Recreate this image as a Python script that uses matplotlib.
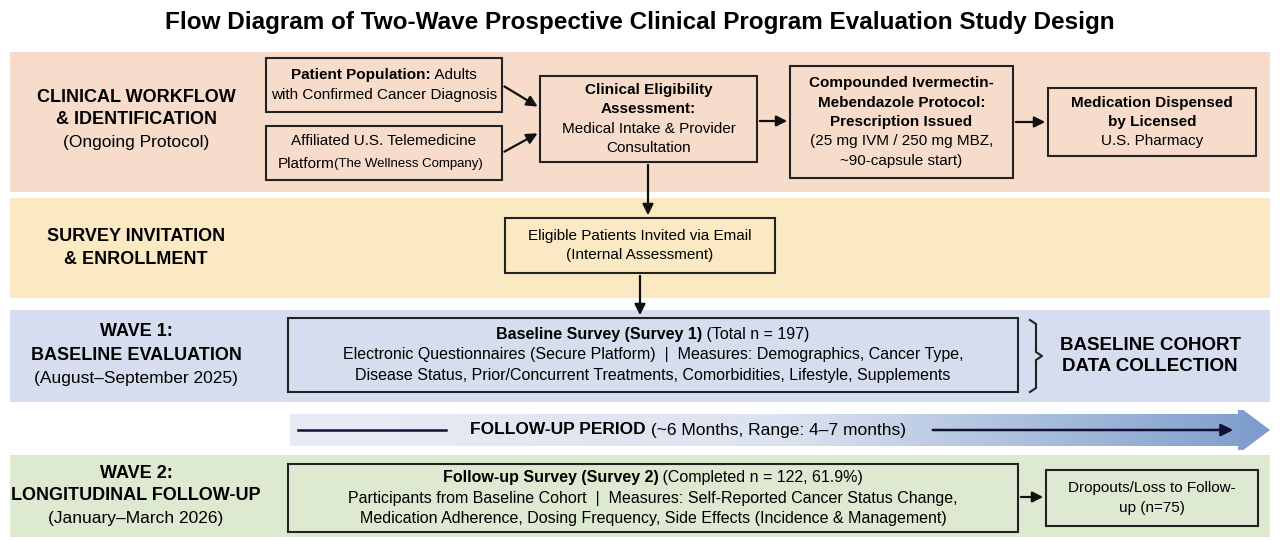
import matplotlib
matplotlib.use("Agg")
import matplotlib.pyplot as plt
import numpy as np
from matplotlib.patches import Rectangle, Polygon

plt.rcParams['font.family'] = ['Liberation Sans', 'DejaVu Sans']

title = "Flow Diagram of Two-Wave Prospective Clinical Program Evaluation Study Design"

# stage labels on the left: (bold lines, normal line)
stage_labels = [
    (["CLINICAL WORKFLOW", "& IDENTIFICATION"], "(Ongoing Protocol)"),
    (["SURVEY INVITATION", "& ENROLLMENT"], None),
    (["WAVE 1:", "BASELINE EVALUATION"], "(August\u2013September 2025)"),
    (["WAVE 2:", "LONGITUDINAL FOLLOW-UP"], "(January\u2013March 2026)"),
]
band_colors = ["#f7dccb", "#fbe9c3", "#d6ddef", "#dde9d1"]
followup_text = [("FOLLOW-UP PERIOD", True), (" (~6 Months, Range: 4\u20137 months)", False)]
cohort_text = "BASELINE COHORT\nDATA COLLECTION"

fig = plt.figure(figsize=(12.8, 5.41), dpi=100)
ax = fig.add_axes([0, 0, 1, 1])
ax.set_xlim(0, 1280)
ax.set_ylim(541, 0)
ax.axis('off')
fig.patch.set_facecolor('white')
r = fig.canvas.get_renderer()


def mixed(x, y, parts, size=11):
    # draw a line of mixed bold/normal text centered at x
    objs = []
    for s, b in parts:
        objs.append(ax.text(0, y, s, fontsize=size, fontweight='bold' if b else 'normal',
                            va='center', ha='left', zorder=6))
    inv = ax.transData.inverted()
    widths = []
    for t in objs:
        bb = t.get_window_extent(renderer=r)
        p0 = inv.transform((bb.x0, bb.y0))
        p1 = inv.transform((bb.x1, bb.y0))
        widths.append(p1[0] - p0[0])
    cur = x - sum(widths) / 2
    for t, w in zip(objs, widths):
        t.set_x(cur)
        cur += w


def box(x0, y0, x1, y1, lines, size=11):
    ax.add_patch(Rectangle((x0, y0), x1 - x0, y1 - y0, fc='none', ec='#222222', lw=1.5, zorder=5))
    n = len(lines)
    lh = size * 1.75
    yc = (y0 + y1) / 2
    for i, parts in enumerate(lines):
        mixed((x0 + x1) / 2, yc + (i - (n - 1) / 2) * lh, parts, size)


def arrow(x0, y0, x1, y1):
    ax.annotate("", xy=(x1, y1), xytext=(x0, y0),
                arrowprops=dict(arrowstyle='-|>', color='#111111', lw=1.6, mutation_scale=16), zorder=7)


ax.text(640, 22, title, ha='center', va='center', fontsize=17.5, fontweight='bold')

bands = [(52, 192), (198, 298), (310, 402), (455, 537)]
for (y0, y1), c in zip(bands, band_colors):
    ax.add_patch(Rectangle((10, y0), 1260, y1 - y0, fc=c, ec='none', zorder=1))

label_y = [120, 248, 355, 496]
for (bl, nl), yc in zip(stage_labels, label_y):
    lines = [(s, True) for s in bl] + ([(nl, False)] if nl else [])
    n = len(lines)
    for i, (s, b) in enumerate(lines):
        ax.text(136, yc + (i - (n - 1) / 2) * 23, s, ha='center', va='center',
                fontsize=13 if b else 12.5, fontweight='bold' if b else 'normal', zorder=6)

# row 1 boxes
box(266, 58, 502, 112, [[("Patient Population:", True), (" Adults", False)],
                        [("with Confirmed Cancer Diagnosis", False)]])
ax.add_patch(Rectangle((266, 126), 236, 54, fc='none', ec='#222222', lw=1.5, zorder=5))
mixed(384, 141, [("Affiliated U.S. Telemedicine", False)], 11)
ax.text(278, 164, "Platform", fontsize=11, va='center', ha='left', zorder=6)
ax.text(334, 164, "(The Wellness Company)", fontsize=9.5, va='center', ha='left', zorder=6)
box(540, 76, 757, 162, [[("Clinical Eligibility", True)], [("Assessment:", True)],
                        [("Medical Intake & Provider", False)], [("Consultation", False)]], 11)
box(790, 66, 1013, 178, [[("Compounded Ivermectin-", True)], [("Mebendazole Protocol:", True)],
                         [("Prescription Issued", True)], [("(25 mg IVM / 250 mg MBZ,", False)],
                         [("~90-capsule start)", False)]], 11)
box(1048, 88, 1256, 156, [[("Medication Dispensed", True)], [("by Licensed", True)],
                          [("U.S. Pharmacy", False)]], 11)
arrow(502, 85, 540, 108)
arrow(502, 153, 540, 132)
arrow(757, 121, 790, 121)
arrow(1013, 122, 1048, 122)
arrow(648, 162, 648, 218)

box(505, 218, 775, 273, [[("Eligible Patients Invited via Email", False)], [("(Internal Assessment)", False)]])
arrow(640, 273, 640, 318)

box(288, 318, 1018, 392, [[("Baseline Survey (Survey 1)", True), (" (Total n = 197)", False)],
                          [("Electronic Questionnaires (Secure Platform)  |  Measures: Demographics, Cancer Type,", False)],
                          [("Disease Status, Prior/Concurrent Treatments, Comorbidities, Lifestyle, Supplements", False)]], 11.5)
# brace
by0, by1, bx = 320, 392, 1030
ym = (by0 + by1) / 2
ax.plot([bx, bx + 6, bx + 6, bx + 12, bx + 6, bx + 6, bx], [by0, by0 + 4, ym - 4, ym, ym + 4, by1 - 4, by1],
        color='#222222', lw=1.5, zorder=6)
ax.text(1150, ym, cohort_text, ha='center', va='center', fontsize=13.5, fontweight='bold', linespacing=1.3)

# follow-up gradient arrow
grad = np.linspace(0, 1, 256).reshape(1, -1)
cmap = matplotlib.colors.LinearSegmentedColormap.from_list('g', ['#e8ecf5', '#dce3f0', '#7d9ccc'])
im = ax.imshow(grad, extent=(290, 1270, 450, 410), aspect='auto', cmap=cmap, zorder=2)
poly = Polygon([(290, 414), (1238, 414), (1238, 406), (1270, 430), (1238, 454), (1238, 446), (290, 446)],
               closed=True, transform=ax.transData, fc='none', ec='none')
ax.add_patch(poly)
im.set_clip_path(poly)
ax.plot([298, 446], [430, 430], color='#111133', lw=1.8, zorder=3)
ax.annotate("", xy=(1236, 430), xytext=(930, 430),
            arrowprops=dict(arrowstyle='-|>', color='#111133', lw=1.8, mutation_scale=18), zorder=3)
mixed(688, 430, followup_text, 12.5)

box(288, 464, 1018, 532, [[("Follow-up Survey (Survey 2)", True), (" (Completed n = 122, 61.9%)", False)],
                          [("Participants from Baseline Cohort  |  Measures: Self-Reported Cancer Status Change,", False)],
                          [("Medication Adherence, Dosing Frequency, Side Effects (Incidence & Management)", False)]], 11.5)
box(1046, 470, 1258, 526, [[("Dropouts/Loss to Follow-", False)], [("up (n=75)", False)]], 11)
arrow(1018, 497, 1046, 497)

fig.savefig("out.png", dpi=100)
